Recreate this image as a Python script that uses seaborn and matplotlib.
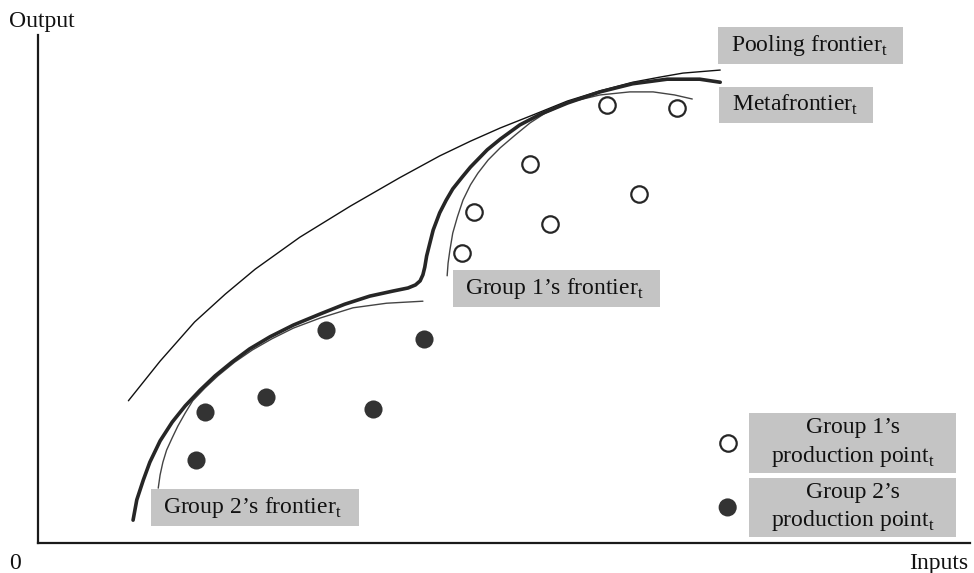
import matplotlib
matplotlib.use("Agg")
import matplotlib.pyplot as plt
from matplotlib.patches import Rectangle
import pandas as pd
import seaborn as sns

# points, inputs / output in 0-100 units
pool_x = [9.7, 13.1, 16.8, 20.1, 23.3, 28.1, 33.5, 38.8, 43.1, 46.4, 49.6, 53.3,
          56.8, 60.3, 63.8, 66.7, 69.2, 73.2]
pool_y = [28.0, 35.8, 43.5, 49.0, 53.9, 60.2, 66.3, 71.9, 76.2, 79.1, 81.7, 84.4,
          87.0, 89.0, 90.7, 91.7, 92.5, 93.1]

meta_x = [10.2, 10.6, 11.3, 12.0, 13.1, 14.4, 15.8, 17.4, 19.0, 20.8, 22.7, 24.9,
          27.4, 30.3, 32.9, 35.6, 38.1, 39.7, 40.5, 41.0, 41.3, 41.5, 41.7, 42.0,
          42.4, 43.1, 43.8, 44.5, 45.5, 46.4, 48.2, 49.6, 51.7, 53.9, 56.8, 60.3,
          63.8, 67.5, 71.0, 73.2]
meta_y = [4.5, 8.5, 12.4, 15.9, 20.1, 23.8, 27.0, 30.1, 32.9, 35.6, 38.2, 40.6,
          42.9, 45.1, 47.0, 48.6, 49.6, 50.2, 50.8, 51.6, 52.8, 54.3, 56.5, 58.7,
          61.6, 65.0, 67.5, 69.7, 72.0, 74.0, 77.4, 79.5, 82.3, 84.4, 86.6, 88.8,
          90.4, 91.3, 91.3, 90.7]

g1_front_x = [43.9, 44.0, 44.2, 44.5, 45.0, 45.6, 46.4, 47.2, 48.3, 49.6, 51.2,
              52.8, 54.4, 57.1, 60.3, 63.5, 66.0, 68.3, 70.2]
g1_front_y = [52.6, 55.1, 57.7, 61.0, 64.2, 67.5, 70.5, 72.8, 75.4, 77.8, 80.3,
              82.7, 84.6, 86.8, 88.2, 88.8, 88.8, 88.2, 87.4]

g2_front_x = [12.9, 13.1, 13.4, 13.8, 14.4, 15.0, 15.8, 16.6, 17.9, 19.3, 21.1,
              23.0, 25.1, 27.4, 30.3, 33.8, 37.4, 41.3]
g2_front_y = [10.8, 13.4, 15.9, 18.3, 20.7, 23.0, 25.6, 28.0, 30.5, 32.9, 35.6,
              38.0, 40.2, 42.3, 44.3, 46.3, 47.2, 47.6]

g1_pts_x = [61.1, 68.6, 52.8, 46.8, 54.9, 64.5, 45.5]
g1_pts_y = [86.2, 85.6, 74.6, 65.2, 62.8, 68.7, 57.1]

g2_pts_x = [30.9, 41.4, 24.5, 17.9, 35.9, 17.0]
g2_pts_y = [41.9, 40.2, 28.7, 25.8, 26.4, 16.3]

sub = r"$_\mathrm{t}$"
frontier_labels = ["Pooling frontier" + sub, "Metafrontier" + sub,
                   "Group 1\u2019s frontier" + sub, "Group 2\u2019s frontier" + sub]
legend_labels = ["Group 1\u2019s\nproduction point" + sub,
                 "Group 2\u2019s\nproduction point" + sub]

sns.set_style("white")
plt.rcParams["font.family"] = ["Liberation Serif", "DejaVu Serif"]
plt.rcParams["mathtext.fontset"] = "custom"
plt.rcParams["mathtext.rm"] = "Liberation Serif"

ink = "#262626"
box_col = "#c4c4c4"
fs = 17

fig = plt.figure(figsize=(9.74, 5.73), dpi=100)
ax = fig.add_axes([38 / 974, 30 / 573, 932 / 974, 508 / 573])

sns.lineplot(x=pool_x, y=pool_y, sort=False, estimator=None, color="#111111",
             lw=1.0, ax=ax)
sns.lineplot(x=g1_front_x, y=g1_front_y, sort=False, estimator=None, color="#444444",
             lw=1.0, ax=ax)
sns.lineplot(x=g2_front_x, y=g2_front_y, sort=False, estimator=None, color="#444444",
             lw=1.0, ax=ax)
sns.lineplot(x=meta_x, y=meta_y, sort=False, estimator=None, color=ink,
             lw=2.6, ax=ax, solid_capstyle="round", solid_joinstyle="round")

sns.scatterplot(x=g1_pts_x, y=g1_pts_y, s=140, facecolor="white", edgecolor=ink,
                linewidth=1.6, ax=ax, zorder=5)
sns.scatterplot(x=g2_pts_x, y=g2_pts_y, s=170, color="#333333", linewidth=0,
                ax=ax, zorder=5)

ax.set_xlim(0, 100)
ax.set_ylim(0, 100)
ax.set_xticks([])
ax.set_yticks([])
for side in ["top", "right"]:
    ax.spines[side].set_visible(False)
for side in ["left", "bottom"]:
    ax.spines[side].set_color("#1a1a1a")
    ax.spines[side].set_linewidth(1.6)

# grey label boxes: (left, bottom, right, top) in axis units
boxes = [(73.0, 94.3, 92.8, 101.6), (73.1, 82.7, 89.6, 89.8),
         (44.5, 46.5, 66.7, 53.7), (12.1, 3.3, 34.4, 10.6)]
for (x0, y0, x1, y1), lab in zip(boxes, frontier_labels):
    ax.add_patch(Rectangle((x0, y0), x1 - x0, y1 - y0, facecolor=box_col,
                           edgecolor="none", clip_on=False, zorder=3))
    ax.text(x0 + 1.35, (y0 + y1) / 2, lab, fontsize=fs, ha="left", va="center",
            color="#111111", zorder=4, clip_on=False)

leg_boxes = [(76.3, 13.8, 98.5, 25.6), (76.3, 1.2, 98.5, 12.8)]
leg_marks = [dict(facecolor="white", edgecolor=ink, linewidth=1.6, s=140),
             dict(facecolor="#333333", edgecolor="none", linewidth=0, s=170)]
for (x0, y0, x1, y1), lab, mk in zip(leg_boxes, legend_labels, leg_marks):
    ax.add_patch(Rectangle((x0, y0), x1 - x0, y1 - y0, facecolor=box_col,
                           edgecolor="none", clip_on=False, zorder=3))
    ax.text((x0 + x1) / 2, (y0 + y1) / 2, lab, fontsize=fs, ha="center",
            va="center", linespacing=1.3, color="#111111", zorder=4)
    ax.scatter([74.0], [(y0 + y1) / 2], zorder=5, clip_on=False, **mk)

ax.text(0.4, 101.6, "Output", fontsize=fs, ha="center", va="baseline",
        color="#111111", clip_on=False)
ax.text(-2.5, -5.1, "0", fontsize=fs, ha="center", va="baseline",
        color="#111111", clip_on=False)
ax.text(99.8, -5.1, "Inputs", fontsize=fs, ha="right", va="baseline",
        color="#111111", clip_on=False)

fig.savefig("out.png", dpi=100)
